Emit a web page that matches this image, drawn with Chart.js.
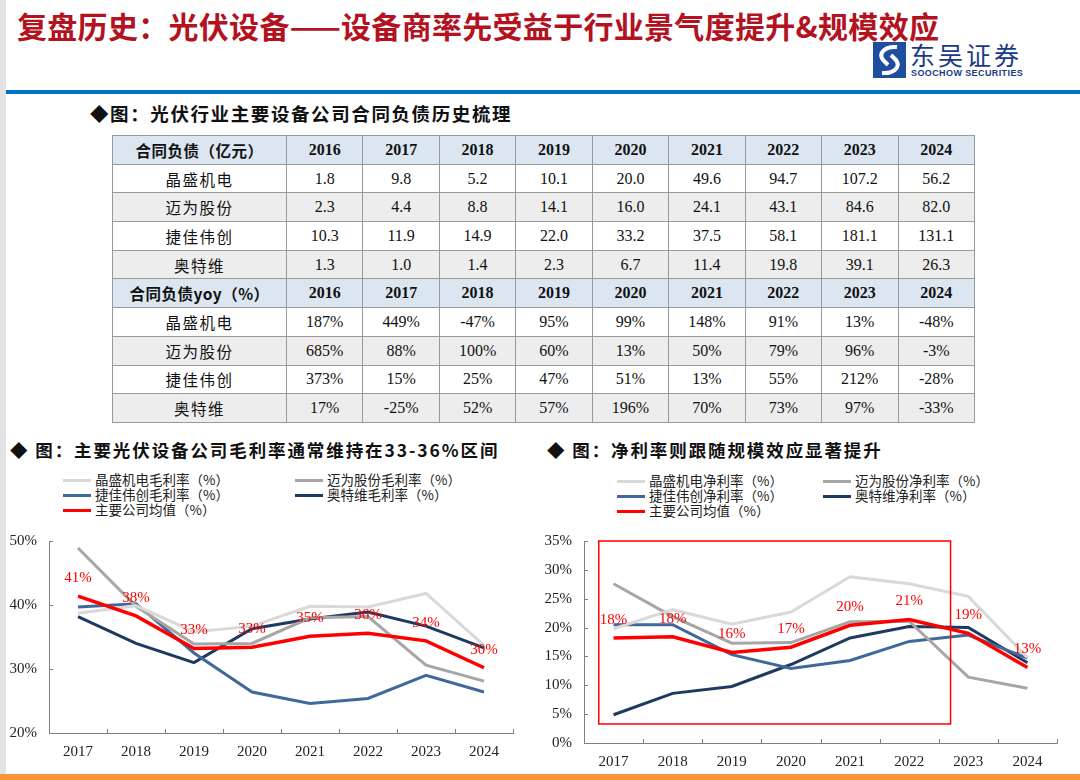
<!DOCTYPE html>
<html>
<head>
<meta charset="utf-8">
<script src="https://cdn.jsdelivr.net/npm/chart.js@4/dist/chart.umd.min.js"></script>
<style>
  body { margin: 0; width: 1080px; height: 780px; position: relative; overflow: hidden; background: #fff;
         font-family: "Liberation Serif", "Noto Sans CJK SC", serif; }
  .abs { position: absolute; }
  .stripe { left: 0; top: 0; width: 6px; height: 780px; background: #E3E3E3; }
  .title { left: 17px; top: 4px; font-family: "Noto Sans CJK SC"; font-weight: 700; font-size: 30px; letter-spacing: 0.3px; color: #B3121F; white-space: nowrap; line-height: 42px; }
  .rule { left: 6px; top: 90px; width: 1074px; height: 4px; background: #0070C0; }
  .logo-text { left: 910px; top: 40px; font-family: "Noto Sans CJK SC"; font-size: 25px; letter-spacing: 3px; color: #1B3A86; line-height: 28px; }
  .logo-en { left: 911px; top: 68px; font-family: "Liberation Sans", sans-serif; font-weight: 700; font-size: 9px; letter-spacing: 0.4px; color: #1B3A86; white-space: nowrap; }
  .sub { font-family: "Noto Sans CJK SC"; font-weight: 700; color: #111; white-space: nowrap; }
  table { position: absolute; left: 112px; top: 135px; width: 863px; border-collapse: collapse; table-layout: fixed; }
  td { border: 1px solid #9A9A9A; height: 27.7px; padding: 0; text-align: center; font-size: 16px; color: #111; }
  td.name { font-family: "Noto Sans CJK SC"; letter-spacing: 1.5px; font-size: 15.5px; }
  tr.head td { background: #DCE6F1; font-weight: 700; }
  tr.head td.name { letter-spacing: 0.5px; }
  tr.alt td { background: #EDEDED; }
  .legend { font-family: "Noto Sans CJK SC"; font-size: 13.5px; color: #222; white-space: nowrap; }
  .legend .item { position: absolute; height: 15px; line-height: 15px; }
  .legend .swatch { position: absolute; left: 0; top: 6px; width: 28px; height: 3px; }
  .legend .lbl { position: absolute; left: 32px; top: -1px; }
  .band { left: 0; top: 774px; width: 1080px; height: 6px; background: #F7963C; }
</style>
</head>
<body>
<div class="abs stripe"></div>
<div class="abs title">复盘历史：光伏设备——设备商率先受益于行业景气度提升&amp;规模效应</div>
<svg class="abs" style="left:873px;top:42px" width="33" height="36" viewBox="0 0 33 36">
  <rect width="33" height="36" fill="#1F4E9E"/>
  <path d="M24 5 C 12 4, 5 11, 10 18 L 15 23" stroke="#fff" stroke-width="4" fill="none"/>
  <path d="M9 31 C 21 32, 28 25, 23 18 L 18 13" stroke="#fff" stroke-width="4" fill="none"/>
</svg>
<div class="abs logo-text">东吴证券</div>
<div class="abs logo-en">SOOCHOW SECURITIES</div>
<div class="abs rule"></div>

<div class="abs sub" style="left:90px;top:100px;font-size:18.5px;letter-spacing:1.6px;">◆图：光伏行业主要设备公司合同负债历史梳理</div>
<table id="liabTable"></table>

<div class="abs sub" style="left:10px;top:437px;font-size:17.5px;letter-spacing:1.9px;">◆ 图：主要光伏设备公司毛利率通常维持在33-36%区间</div>
<div class="abs sub" style="left:547px;top:437px;font-size:17.5px;letter-spacing:1.9px;">◆ 图：净利率则跟随规模效应显著提升</div>

<div class="abs legend" id="legendGross" style="left:0;top:0"></div>
<div class="abs legend" id="legendNet" style="left:0;top:0"></div>

<div class="abs" style="left:0;top:520px;width:530px;height:255px"><canvas id="grossChart"></canvas></div>
<div class="abs" style="left:540px;top:520px;width:540px;height:255px"><canvas id="netChart"></canvas></div>

<div class="abs band"></div>

<script>
// table data
const tableYears = ['2016', '2017', '2018', '2019', '2020', '2021', '2022', '2023', '2024'];
const companies = ['晶盛机电', '迈为股份', '捷佳伟创', '奥特维'];
const liabJingsheng = [1.8, 9.8, 5.2, 10.1, 20.0, 49.6, 94.7, 107.2, 56.2];
const liabMaiwei = [2.3, 4.4, 8.8, 14.1, 16.0, 24.1, 43.1, 84.6, 82.0];
const liabJiejia = [10.3, 11.9, 14.9, 22.0, 33.2, 37.5, 58.1, 181.1, 131.1];
const liabAotewei = [1.3, 1.0, 1.4, 2.3, 6.7, 11.4, 19.8, 39.1, 26.3];
const yoyJingsheng = [187, 449, -47, 95, 99, 148, 91, 13, -48];
const yoyMaiwei = [685, 88, 100, 60, 13, 50, 79, 96, -3];
const yoyJiejia = [373, 15, 25, 47, 51, 13, 55, 212, -28];
const yoyAotewei = [17, -25, 52, 57, 196, 70, 73, 97, -33];

// chart data
const years = ['2017', '2018', '2019', '2020', '2021', '2022', '2023', '2024'];
const gmJingsheng = [38.7, 39.9, 35.8, 36.7, 39.8, 39.7, 41.8, 33.7];
const gmMaiwei = [48.9, 39.8, 33.9, 34.0, 38.0, 38.2, 30.6, 28.1];
const gmJiejia = [39.7, 40.2, 32.5, 26.4, 24.6, 25.4, 29.0, 26.4];
const gmAotewei = [38.2, 34.0, 31.0, 36.3, 37.8, 38.9, 36.7, 33.3];
const gmAverage = [41.4, 38.3, 33.2, 33.4, 35.1, 35.6, 34.4, 30.2];
const npJingsheng = [19.8, 23.1, 20.6, 22.7, 28.8, 27.6, 25.4, 14.8];
const npMaiwei = [27.6, 21.9, 17.3, 17.4, 21.0, 21.1, 11.4, 9.5];
const npJiejia = [20.5, 20.5, 15.3, 12.9, 14.3, 17.6, 18.7, 14.7];
const npAotewei = [4.9, 8.6, 9.8, 13.6, 18.2, 20.2, 20.0, 13.9];
const npAverage = [18.2, 18.4, 15.7, 16.6, 20.4, 21.4, 19.0, 13.1];
const grossTicks = [20, 30, 40, 50];
const netTicks = [0, 5, 10, 15, 20, 25, 30, 35];

const seriesColors = ['#D9D9D9', '#A6A6A6', '#41689B', '#1F3A60', '#FF0000'];
const avgName = '主要公司均值（%）';

// --- table ---
function buildTable() {
    const fmtLiab = v => v.toFixed(1);
    const fmtYoy = v => v + '%';
    const block = (head, rows, fmt) => {
        let html = `<tr class="head"><td class="name">${head}</td>${tableYears.map(y => `<td>${y}</td>`).join('')}</tr>`;
        rows.forEach((r, i) => {
            html += `<tr class="${i % 2 ? 'alt' : ''}"><td class="name">${companies[i]}</td>${r.map(v => `<td>${fmt(v)}</td>`).join('')}</tr>`;
        });
        return html;
    };
    const cols = `<colgroup><col style="width:174px">${tableYears.map(() => '<col>').join('')}</colgroup>`;
    document.getElementById('liabTable').innerHTML = cols +
        block('合同负债（亿元）', [liabJingsheng, liabMaiwei, liabJiejia, liabAotewei], fmtLiab) +
        block('合同负债yoy（%）', [yoyJingsheng, yoyMaiwei, yoyJiejia, yoyAotewei], fmtYoy);
}

// --- legend (html, from the same series names/colours) ---
function buildLegend(id, names, x1, x2, y0) {
    const el = document.getElementById(id);
    const rowH = 15.2;
    el.innerHTML = names.map((n, i) => {
        const left = i % 2 ? x2 : x1;
        const top = y0 + Math.floor(i / 2) * rowH;
        return `<div class="item" style="left:${left}px;top:${top}px"><div class="swatch" style="background:${seriesColors[i]}"></div><div class="lbl">${n}</div></div>`;
    }).join('');
}

// value labels above the average line + inward tick marks + optional highlight box
const decorPlugin = {
    id: 'decor',
    afterDatasetsDraw(chart) {
        const { ctx, chartArea } = chart;
        const xs = chart.scales.x, ys = chart.scales.y;
        ctx.save();
        ctx.strokeStyle = '#7F7F7F';
        ctx.lineWidth = 1;
        ctx.beginPath();
        for (let i = 0; i < years.length; i++) {
            const x = Math.round((xs.getPixelForValue(i) + xs.getPixelForValue(i + 1)) / 2) + 0.5;
            ctx.moveTo(x, chartArea.bottom);
            ctx.lineTo(x, chartArea.bottom - 4);
        }
        ys.ticks.forEach(t => {
            const y = Math.round(ys.getPixelForValue(t.value)) + 0.5;
            ctx.moveTo(chartArea.left, y);
            ctx.lineTo(chartArea.left + 4, y);
        });
        ctx.stroke();

        const box = chart.options.plugins.decor.box;
        if (box) {
            ctx.strokeStyle = '#FF0000';
            ctx.lineWidth = 1.5;
            const l = xs.getPixelForValue(box[0]), r = xs.getPixelForValue(box[1]);
            const b = ys.getPixelForValue(box[2]), t = ys.getPixelForValue(box[3]);
            ctx.strokeRect(l, t, r - l, b - t);
        }

        const meta = chart.getDatasetMeta(chart.data.datasets.length - 1);
        ctx.fillStyle = '#FF0000';
        ctx.font = '15px "Liberation Serif"';
        ctx.textAlign = 'center';
        ctx.textBaseline = 'middle';
        meta.data.forEach((pt, i) => {
            const v = chart.data.datasets[meta.index].data[i];
            ctx.fillText(Math.round(v) + '%', pt.x, pt.y - 18);
        });
        ctx.restore();
    }
};

function makeChart(id, series, names, tickVals, yAxisW, xAxisH, pad, box) {
    const tickFont = { family: 'Liberation Serif', size: 15 };
    return new Chart(document.getElementById(id), {
        type: 'line',
        data: {
            labels: years,
            datasets: series.map((d, i) => ({
                label: names[i],
                data: d,
                borderColor: seriesColors[i],
                borderWidth: i === 4 ? 3.5 : 3,
                pointRadius: 0,
                tension: 0,
                order: i === 4 ? 0 : 1
            }))
        },
        options: {
            responsive: true,
            maintainAspectRatio: false,
            animation: false,
            layout: { padding: pad },
            plugins: { legend: { display: false }, tooltip: { enabled: false }, decor: { box } },
            scales: {
                x: {
                    offset: true,
                    grid: { display: false, drawTicks: false },
                    border: { color: '#7F7F7F', width: 1 },
                    ticks: { color: '#222', font: tickFont, padding: 10, maxRotation: 0 },
                    afterFit: s => { s.height = xAxisH; }
                },
                y: {
                    min: tickVals[0],
                    max: tickVals[tickVals.length - 1],
                    afterBuildTicks: s => { s.ticks = tickVals.map(v => ({ value: v })); },
                    grid: { display: false, drawTicks: false },
                    border: { color: '#7F7F7F', width: 1 },
                    ticks: { color: '#222', font: tickFont, padding: 12, callback: v => v + '%' },
                    afterFit: s => { s.width = yAxisW; }
                }
            }
        },
        plugins: [decorPlugin]
    });
}

buildTable();

const grossNames = companies.map(c => c + '毛利率（%）').concat(avgName);
const netNames = companies.map(c => c + '净利率（%）').concat(avgName);
buildLegend('legendGross', grossNames, 63, 295, 473);
buildLegend('legendNet', netNames, 617, 823, 474);

makeChart('grossChart', [gmJingsheng, gmMaiwei, gmJiejia, gmAotewei, gmAverage], grossNames,
    grossTicks, 49, 42, { top: 17, right: 17, bottom: 0, left: 0 });
makeChart('netChart', [npJingsheng, npMaiwei, npJiejia, npAotewei, npAverage], netNames,
    netTicks, 44, 32, { top: 17, right: 23, bottom: 0, left: 0 }, [-0.25, 5.7, 3.3, 35]);
</script>
</body>
</html>
